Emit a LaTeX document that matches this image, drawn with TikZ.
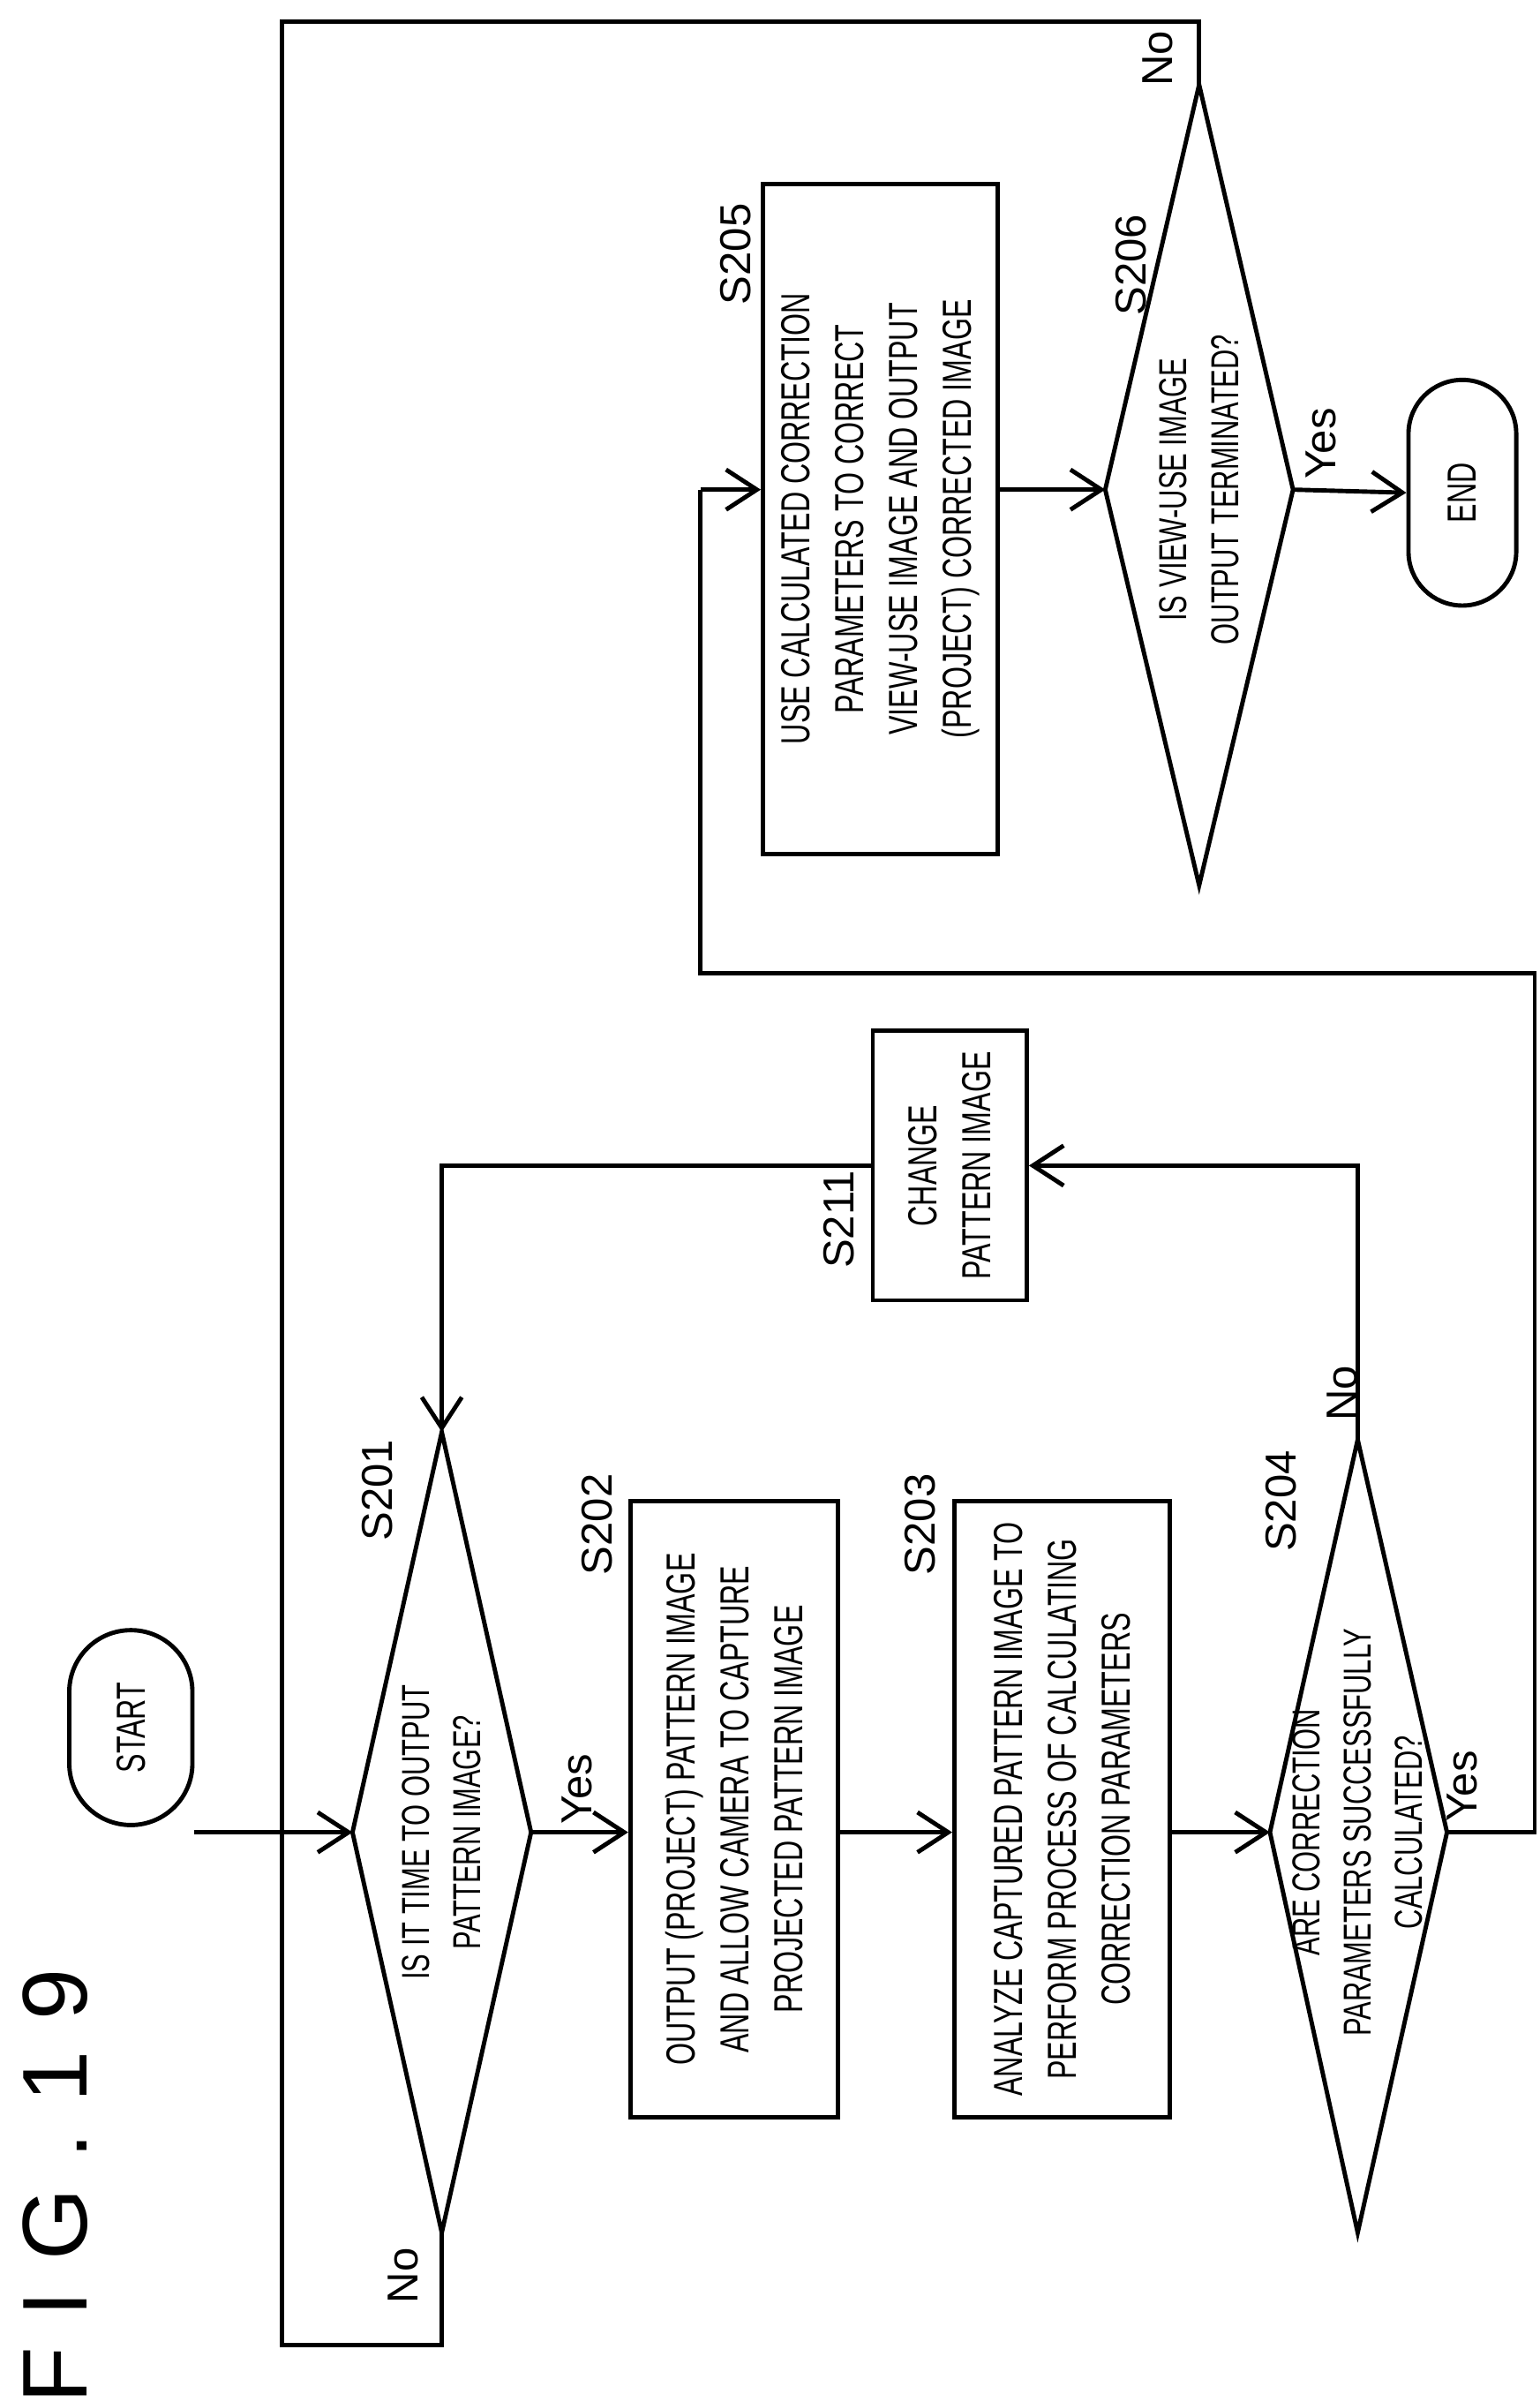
\documentclass[tikz,border=0pt]{standalone}
\usepackage{fontspec}
\setmainfont{Liberation Sans}[FakeStretch=0.7]
\newfontfamily\figfont{Liberation Sans}
\usetikzlibrary{shapes.misc, arrows.meta}
\begin{document}
\begin{tikzpicture}[x=0.1mm, y=0.1mm]

% Styles
\tikzset{box/.style={draw, thick, rectangle, rotate=90, align=center, font=\fontsize{7.5}{10}\selectfont}}
\tikzset{term/.style={draw, thick, rounded rectangle, rotate=90, font=\fontsize{7.5}{10}\selectfont}}
\tikzset{dtxt/.style={rotate=90, align=center, font=\fontsize{7.2}{9.5}\selectfont}}
\tikzset{lbl/.style={rotate=90, font=\figfont\fontsize{8}{10}\selectfont}}
\tikzset{arr/.style={thick, -{Straight Barb[length=2mm, width=2.6mm]}}}
\tikzset{ln/.style={thick}}

\useasboundingbox (0,0) rectangle (1000,-1560);

% Title
\node (title) [rotate=90, font=\figfont\fontsize{17}{17}\selectfont] at (36,-1420) {F\,\,I\,\,G\,\,.\,\,1\,\,9};

% Terminals
\node (start) [term, minimum width=15mm, minimum height=8mm] at (85,-1122) {START};
\node (end) [term, minimum width=17mm, minimum height=7mm] at (950,-320) {END};

% Process boxes
\node (s202) [box, minimum width=40mm, minimum height=13.5mm] at (477,-1175)
  {OUTPUT (PROJECT) PATTERN IMAGE\\AND ALLOW CAMERA TO CAPTURE\\PROJECTED PATTERN IMAGE};
\node (s203) [box, minimum width=40mm, minimum height=14mm] at (690,-1175)
  {ANALYZE CAPTURED PATTERN IMAGE TO\\PERFORM PROCESS OF CALCULATING\\CORRECTION PARAMETERS};
\node (s211) [box, minimum width=17.5mm, minimum height=10mm] at (617,-757)
  {CHANGE\\PATTERN IMAGE};
\node (s205) [box, minimum width=43.5mm, minimum height=14.5mm] at (572,-337)
  {USE CALCULATED CORRECTION\\PARAMETERS TO CORRECT\\VIEW-USE IMAGE AND OUTPUT\\(PROJECT) CORRECTED IMAGE};

% Decisions
\coordinate (s201l) at (229,-1190); \coordinate (s201r) at (345,-1190);
\coordinate (s201t) at (287,-930);  \coordinate (s201b) at (287,-1450);
\draw[ln] (s201l) -- (s201t) -- (s201r) -- (s201b) -- cycle;
\node (s201) [dtxt] at (287,-1190) {IS IT TIME TO OUTPUT\\PATTERN IMAGE?};

\coordinate (s204l) at (825,-1190); \coordinate (s204r) at (940,-1190);
\coordinate (s204t) at (882,-935);  \coordinate (s204b) at (882,-1450);
\draw[ln] (s204l) -- (s204t) -- (s204r) -- (s204b) -- cycle;
\node (s204) [dtxt] at (882,-1190) {ARE CORRECTION\\PARAMETERS SUCCESSFULLY\\CALCULATED?};

\coordinate (s206l) at (718,-318); \coordinate (s206r) at (840,-318);
\coordinate (s206t) at (779,-55);  \coordinate (s206b) at (779,-575);
\draw[ln] (s206l) -- (s206t) -- (s206r) -- (s206b) -- cycle;
\node (s206) [dtxt] at (779,-318) {IS VIEW-USE IMAGE\\OUTPUT TERMINATED?};

% Helper coordinates
\coordinate (cNo1) at (183,-1523);
\coordinate (cTop) at (183,-14);
\coordinate (cYes) at (997,-632);
\coordinate (cMid) at (455,-632);
\coordinate (cIn5) at (455,-318);

% Connectors
\draw[arr] (start.south |- s201l) -- (s201l);
\draw[ln] (s201b) |- (cNo1) -- (cTop) -| (s206t);
\draw[arr] (s201r) -- (s201r -| s202.north);
\draw[arr] (s202.south |- s201r) -- (s202.south |- s201r -| s203.north);
\draw[arr] (s203.south |- s201r) -- (s204l);
\draw[ln] (s204r) -| (cYes) -- (cMid) -- (cIn5);
\draw[arr] (cIn5) -- (cIn5 -| s205.north);
\draw[arr] (s204t) |- (s211.south);
\draw[arr] (s211.north) -| (s201t);
\draw[arr] (s205.south |- s206l) -- (s206l);
\draw[arr] (s206r) -- (end.north);

% Step labels
\node (l201) [lbl] at (245,-968) {S201};
\node (l202) [lbl] at (388,-990) {S202};
\node (l203) [lbl] at (598,-990) {S203};
\node (l204) [lbl] at (832,-975) {S204};
\node (l211) [lbl] at (545,-792) {S211};
\node (l205) [lbl] at (478,-165) {S205};
\node (l206) [lbl] at (735,-172) {S206};

% Yes / No labels
\node (y201) [lbl] at (375,-1162) {Yes};
\node (n201) [lbl] at (262,-1478) {No};
\node (y204) [lbl] at (950,-1160) {Yes};
\node (n204) [lbl] at (872,-905) {No};
\node (y206) [lbl] at (858,-288) {Yes};
\node (n206) [lbl] at (752,-38) {No};

\end{tikzpicture}
\end{document}
